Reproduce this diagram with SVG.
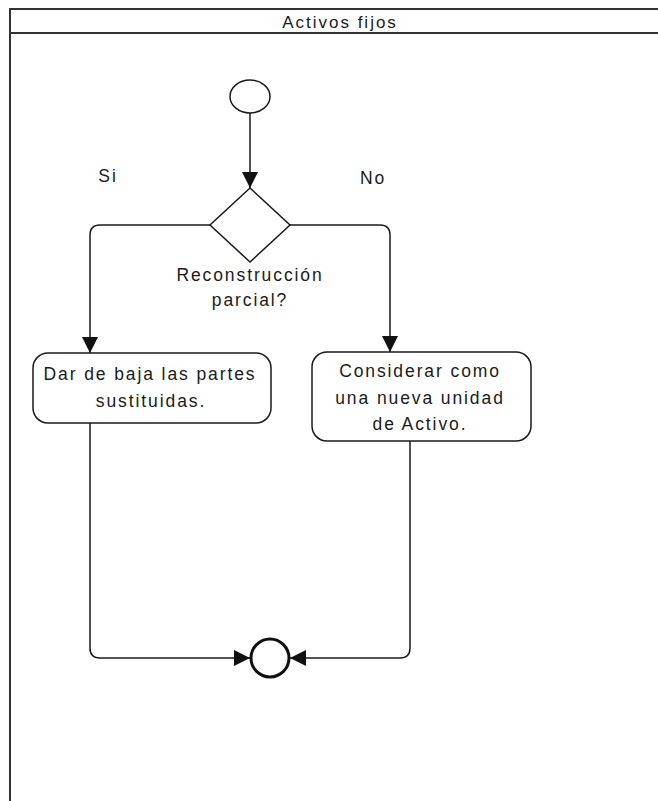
<svg xmlns="http://www.w3.org/2000/svg" width="658" height="801" viewBox="0 0 658 801">
<defs>
<style>
.t{font-family:"Liberation Sans",Arial,sans-serif;font-size:17.5px;fill:#1a1a1a;letter-spacing:1.9px;text-anchor:middle}
.h{font-size:17px;letter-spacing:2px}
.ln{fill:none;stroke:#1a1a1a;stroke-width:1.5}
.box{fill:#fff;stroke:#1a1a1a;stroke-width:1.5}
</style>
<marker id="ar" viewBox="0 0 10 10" refX="10" refY="5" markerWidth="17" markerHeight="16" markerUnits="userSpaceOnUse" orient="auto">
<path d="M0,0 L10,5 L0,10 Z" fill="#111"/>
</marker>
</defs>
<rect width="658" height="801" fill="#fff"/>
<g id="lane">
<path d="M10,801 V9 H658 M10,33 H658" fill="none" stroke="#333" stroke-width="2"/>
<text class="t h" x="340" y="28">Activos fijos</text>
</g>
<g id="connectors">
<path class="ln" d="M250,113 V188" marker-end="url(#ar)"/>
<path class="ln" d="M210,225 H100 Q90,225 90,235 V353" marker-end="url(#ar)"/>
<path class="ln" d="M290,225 H380 Q390,225 390,235 V352" marker-end="url(#ar)"/>
<path class="ln" d="M90,423 V648 Q90,658 100,658 H250" marker-end="url(#ar)"/>
<path class="ln" d="M410,441 V648 Q410,658 400,658 H290" marker-end="url(#ar)"/>
</g>
<g id="start">
<ellipse cx="250" cy="96.5" rx="20" ry="16.5" class="box"/>
</g>
<g id="decision">
<path d="M250,188 L290,225 L250,262 L210,225 Z" class="box"/>
<text class="t" x="250" y="281">Reconstrucción</text>
<text class="t" x="250" y="306">parcial?</text>
</g>
<g id="label-si"><text class="t" x="108" y="182">Si</text></g>
<g id="label-no"><text class="t" x="373" y="184">No</text></g>
<g id="baja">
<rect x="33" y="353" width="238" height="70" rx="15" class="box"/>
<text class="t" x="150" y="380">Dar de baja las partes</text>
<text class="t" x="151" y="407">sustituidas.</text>
</g>
<g id="considerar">
<rect x="312" y="352" width="219" height="89" rx="15" class="box"/>
<text class="t" x="420" y="377">Considerar como</text>
<text class="t" x="420" y="404">una nueva unidad</text>
<text class="t" x="420" y="430">de Activo.</text>
</g>
<g id="end">
<circle cx="270" cy="658" r="19" fill="#fff" stroke="#111" stroke-width="3"/>
</g>
</svg>
